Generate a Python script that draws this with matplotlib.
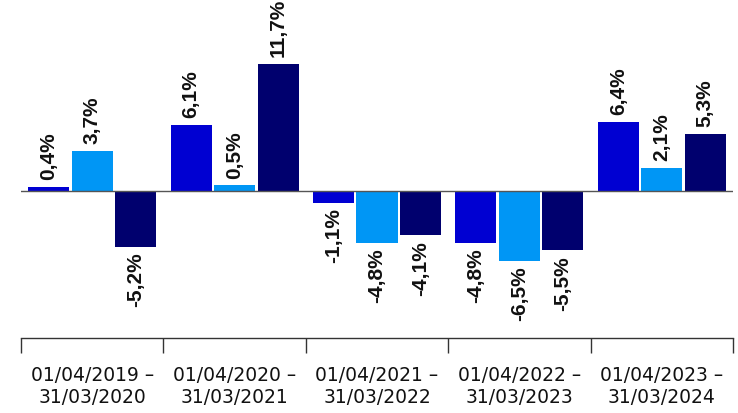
import numpy as np
import matplotlib.pyplot as plt

# Dades
periodes = ['01/04/2019 –\n31/03/2020', '01/04/2020 –\n31/03/2021', '01/04/2021 –\n31/03/2022',
            '01/04/2022 –\n31/03/2023', '01/04/2023 –\n31/03/2024']
serie_a = [0.4, 6.1, -1.1, -4.8, 6.4]
serie_b = [3.7, 0.5, -4.8, -6.5, 2.1]
serie_c = [-5.2, 11.7, -4.1, -5.5, 5.3]

colors = ['#0000d2', '#0096f5', '#00006e']
series = [serie_a, serie_b, serie_c]

fig = plt.figure(figsize=(7.38, 4.13), dpi=100)
ax = fig.add_axes([21 / 738, 1 - 338 / 413, 712 / 738, 338 / 413])

x = np.arange(len(periodes))
width = 0.288
step = 0.305

for k, (vals, col) in enumerate(zip(series, colors)):
    pos = x + (k - 1) * step
    ax.bar(pos, vals, width, color=col, zorder=2)
    for p, v in zip(pos, vals):
        txt = f'{v:.1f}%'.replace('.', ',')
        ax.annotate(txt, (p, v), xytext=(0, 5 if v >= 0 else -4), textcoords='offset points',
                    rotation=90, ha='center', va='bottom' if v >= 0 else 'top',
                    fontsize=15, fontweight='bold', family='Liberation Sans', color='#111111')

ax.axhline(0, color='#555555', linewidth=1, zorder=3)

ax.set_xlim(-0.5, len(periodes) - 0.5)
ax.set_ylim(-13.6, 17.65)

for s in ['top', 'left', 'right']:
    ax.spines[s].set_visible(False)
ax.spines['bottom'].set_color('#333333')
ax.spines['bottom'].set_linewidth(1)
ax.set_yticks([])

ax.set_xticks(np.arange(-0.5, len(periodes)), labels=[''] * (len(periodes) + 1))
ax.tick_params(axis='x', which='major', length=10.5, width=1, color='#333333', direction='out')
ax.set_xticks(x, labels=periodes, minor=True)
ax.tick_params(axis='x', which='minor', length=0, pad=20.5)
for lab in ax.get_xticklabels(minor=True):
    lab.set_fontfamily('DejaVu Sans')
    lab.set_fontsize(13.5)
    lab.set_color('#111111')
    lab.set_linespacing(1.2)

plt.savefig('out.png', dpi=100)
